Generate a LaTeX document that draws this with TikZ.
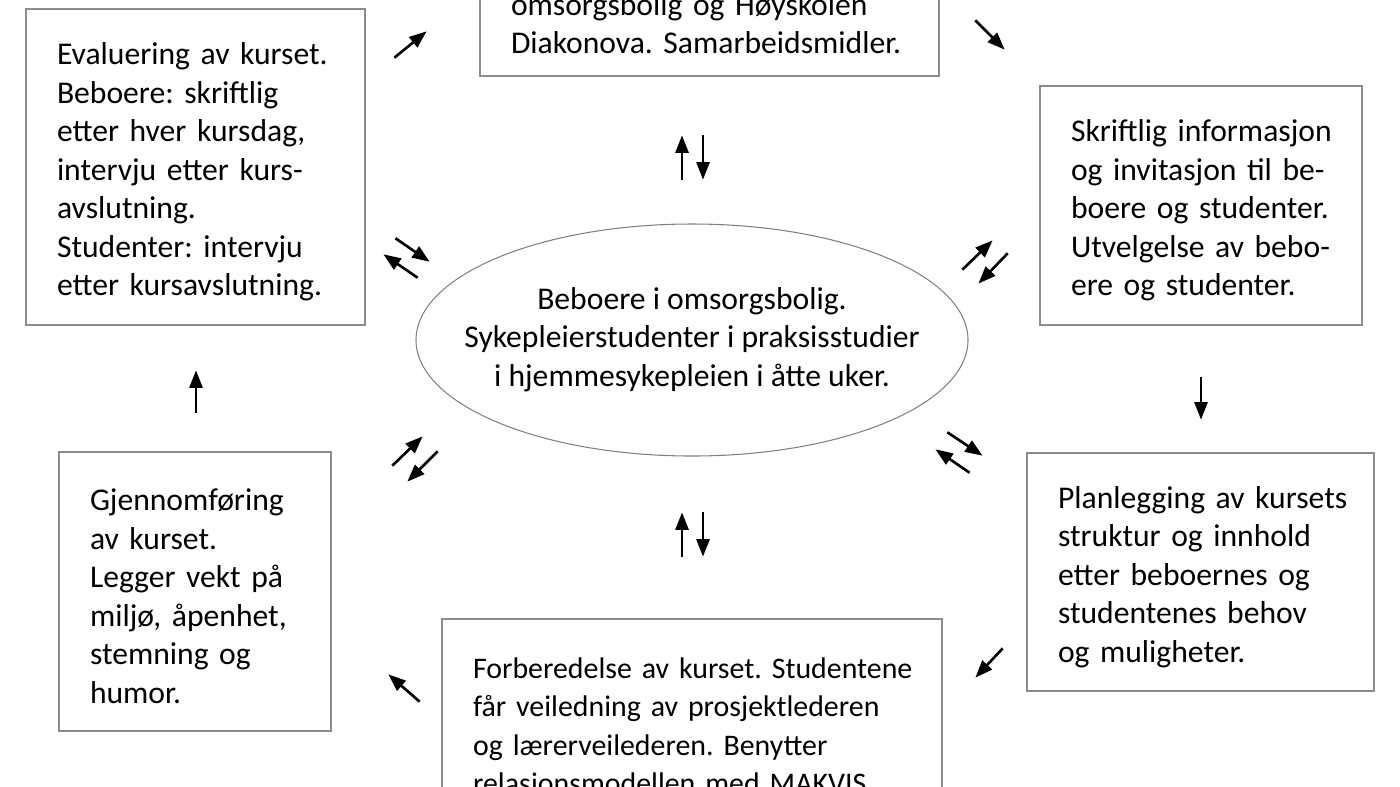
\documentclass[tikz,border=0pt]{standalone}
\usepackage{fontspec}
\setmainfont{Carlito}
\frenchspacing
\usetikzlibrary{shapes.geometric,arrows.meta}
\tikzset{empty/.style={draw=none, fill=none, minimum size=0mm, inner sep=0mm}}
\tikzset{box/.style={draw=black!45, line width=0.8pt, rectangle, align=left, inner xsep=0.62cm, inner ysep=0mm,
    font=\fontsize{18}{21.9}\selectfont, execute at begin node={\rightskip=0pt plus 1fil\rule{0pt}{18pt}}}}
\tikzset{arr/.style={line width=1.5pt, -{Triangle[length=3.5mm, width=2.6mm]}}}

\begin{document}
\begin{tikzpicture}
    \useasboundingbox (0cm, 0cm) rectangle (28cm, -15.72cm);

    \node (mid) at (13.84cm, -6.80cm) [ellipse, draw=black!50, line width=0.6pt, minimum width=11.04cm, minimum height=4.64cm,
        inner sep=0mm, font=\fontsize{18}{21.9}\selectfont]
        {\makebox[0pt]{\begin{tabular}{@{}c@{}}Beboere i omsorgsbolig.\\Sykepleierstudenter i praksisstudier\\i hjemmesykepleien i åtte uker.\end{tabular}}};

    \node (top) at (14.19cm, -0.38cm) [box, minimum width=9.18cm, minimum height=2.28cm, text width=7.94cm]
        {omsorgsbolig og Høyskolen\\Diakonova. Samarbeidsmidler.};
    \node (info) at (24.02cm, -4.11cm) [box, minimum width=6.44cm, minimum height=4.78cm, text width=5.20cm]
        {\mbox{Skriftlig informasjon}\\og invitasjon til be-\\boere og studenter.\\Utvelgelse av bebo-\\ere og studenter.};
    \node (plan) at (24.01cm, -11.44cm) [box, minimum width=6.94cm, minimum height=4.76cm, text width=5.70cm]
        {\mbox{Planlegging av kursets}\\struktur og innhold\\etter beboernes og\\studentenes behov\\og muligheter.};
    \node (prep) at (13.84cm, -14.45cm) [box, minimum width=10.0cm, minimum height=4.14cm, text width=8.76cm,
        font=\fontsize{17}{21.9}\selectfont]
        {\mbox{Forberedelse av kurset. Studentene}\\får veiledning av prosjektlederen\\og lærerveilederen. Benytter\\relasjonsmodellen med MAKVIS.};
    \node (exec) at (3.90cm, -11.83cm) [box, minimum width=5.44cm, minimum height=5.58cm, text width=4.20cm]
        {Gjennomføring\\av kurset.\\Legger vekt på\\miljø, åpenhet,\\stemning og\\humor.};
    \node (eval) at (3.91cm, -3.34cm) [box, minimum width=6.78cm, minimum height=6.32cm, text width=5.54cm]
        {Evaluering av kurset.\\Beboere: skriftlig\\etter hver kursdag,\\intervju etter kurs-\\avslutning.\\Studenter: intervju\\etter kursavslutning.};

    % steps round the circle
    \node (a1s) [empty] at (7.88cm, -1.16cm) {};   \node (a1e) [empty] at (8.54cm, -0.62cm) {};
    \node (a2s) [empty] at (19.50cm, -0.40cm) {};  \node (a2e) [empty] at (20.10cm, -1.00cm) {};
    \node (a3s) [empty] at (24.02cm, -7.54cm) {};  \node (a3e) [empty] at (24.02cm, -8.40cm) {};
    \node (a4s) [empty] at (20.06cm, -12.96cm) {}; \node (a4e) [empty] at (19.50cm, -13.56cm) {};
    \node (a5s) [empty] at (8.40cm, -14.04cm) {};  \node (a5e) [empty] at (7.76cm, -13.48cm) {};
    \node (a6s) [empty] at (3.92cm, -8.26cm) {};   \node (a6e) [empty] at (3.92cm, -7.40cm) {};

    \draw (a1s) edge[arr] (a1e);
    \draw (a2s) edge[arr] (a2e);
    \draw (a3s) edge[arr] (a3e);
    \draw (a4s) edge[arr] (a4e);
    \draw (a5s) edge[arr] (a5e);
    \draw (a6s) edge[arr] (a6e);

    % pairs to and from the middle
    \node (b1s) [empty] at (13.64cm, -3.60cm) {};  \node (b1e) [empty] at (13.64cm, -2.70cm) {};
    \node (b2s) [empty] at (14.06cm, -2.70cm) {};  \node (b2e) [empty] at (14.06cm, -3.60cm) {};
    \node (b3s) [empty] at (13.64cm, -11.14cm) {}; \node (b3e) [empty] at (13.64cm, -10.24cm) {};
    \node (b4s) [empty] at (14.06cm, -10.24cm) {}; \node (b4e) [empty] at (14.06cm, -11.14cm) {};
    \node (b5s) [empty] at (7.90cm, -4.76cm) {};   \node (b5e) [empty] at (8.60cm, -5.24cm) {};
    \node (b6s) [empty] at (8.36cm, -5.56cm) {};   \node (b6e) [empty] at (7.66cm, -5.08cm) {};
    \node (b7s) [empty] at (19.24cm, -5.40cm) {};  \node (b7e) [empty] at (19.86cm, -4.80cm) {};
    \node (b8s) [empty] at (20.16cm, -5.06cm) {};  \node (b8e) [empty] at (19.56cm, -5.68cm) {};
    \node (b9s) [empty] at (7.84cm, -9.32cm) {};   \node (b9e) [empty] at (8.46cm, -8.72cm) {};
    \node (b10s) [empty] at (8.76cm, -9.02cm) {};  \node (b10e) [empty] at (8.14cm, -9.64cm) {};
    \node (b11s) [empty] at (18.94cm, -8.64cm) {}; \node (b11e) [empty] at (19.66cm, -9.12cm) {};
    \node (b12s) [empty] at (19.40cm, -9.46cm) {}; \node (b12e) [empty] at (18.70cm, -8.98cm) {};

    \draw (b1s) edge[arr] (b1e);
    \draw (b2s) edge[arr] (b2e);
    \draw (b3s) edge[arr] (b3e);
    \draw (b4s) edge[arr] (b4e);
    \draw (b5s) edge[arr] (b5e);
    \draw (b6s) edge[arr] (b6e);
    \draw (b7s) edge[arr] (b7e);
    \draw (b8s) edge[arr] (b8e);
    \draw (b9s) edge[arr] (b9e);
    \draw (b10s) edge[arr] (b10e);
    \draw (b11s) edge[arr] (b11e);
    \draw (b12s) edge[arr] (b12e);
\end{tikzpicture}
\end{document}
